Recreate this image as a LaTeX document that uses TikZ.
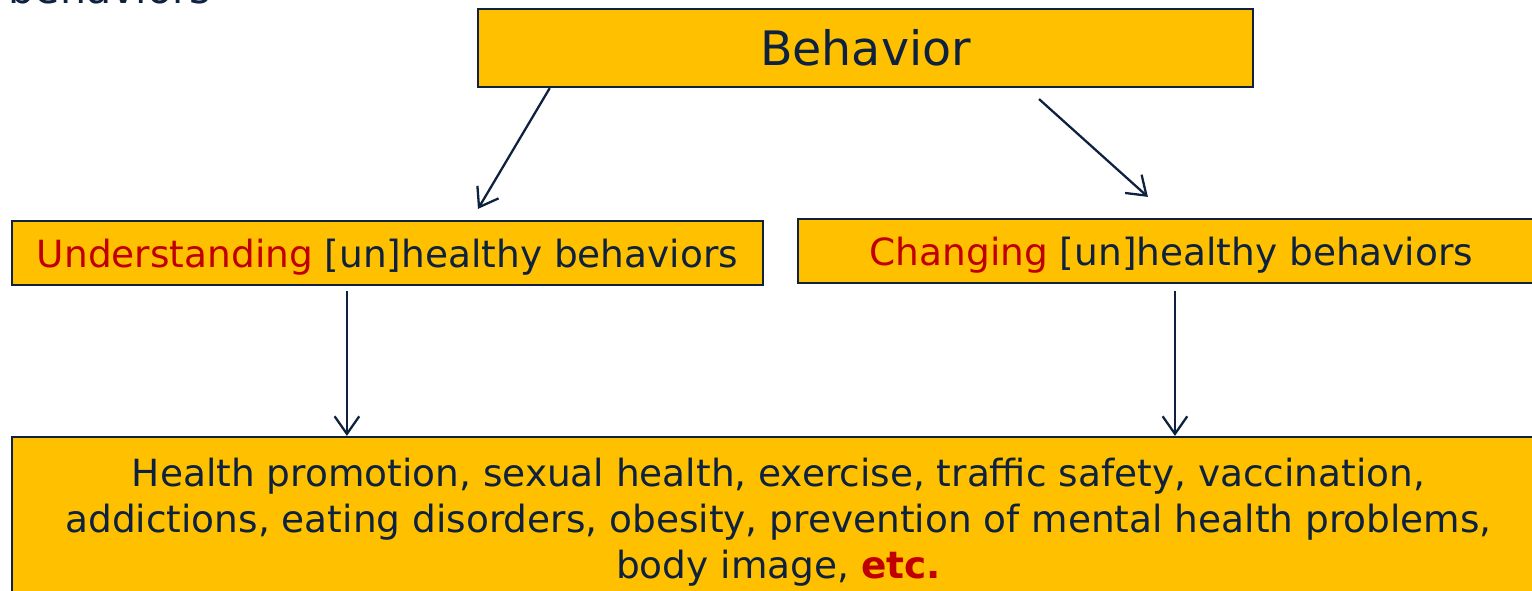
\documentclass[tikz,border=0pt]{standalone}
\usepackage{fontspec}
\setmainfont{DejaVu Sans}
\usetikzlibrary{arrows.meta}
\definecolor{navy}{HTML}{0E2240}
\definecolor{hred}{HTML}{C00000}
\definecolor{gold}{HTML}{FFC000}

\begin{document}
\begin{tikzpicture}[x=0.01cm,y=-0.01cm,
    box/.style={draw=navy,line width=0.6pt,fill=gold,text=navy,inner sep=0pt},
    mid/.style={box,minimum height=0.64cm,text height=9pt,text depth=1pt,font=\fontsize{10.65}{13}\selectfont},
    arr/.style={draw=navy,line width=0.65pt,-{Straight Barb[length=5pt,width=7pt]}}]
    \useasboundingbox (0,0) rectangle (1532,591);
    \clip (0,0) rectangle (1532,591);
    % title line, mostly off the top
    \node [anchor=base west,text=navy,font=\fontsize{11.7}{14}\selectfont,inner sep=0pt] (ttl) at (8,4) {behaviors};
    \node [box,minimum width=7.75cm,minimum height=0.78cm,font=\fontsize{13.5}{16}\selectfont] (beh) at (865.5,48) {Behavior};
    \node [mid,minimum width=7.51cm] (und) at (387.5,253)
        {\textcolor{hred}{Understanding} [un]healthy behaviors};
    \node [mid,minimum width=7.47cm] (chg) at (1171.5,251)
        {\textcolor{hred}{Changing} [un]healthy behaviors\hspace{0.1cm}};
    \node [box,minimum width=15.33cm,minimum height=1.70cm,align=center,font=\fontsize{10.65}{13.1}\selectfont] (bot) at (778.5,522)
        {Health promotion, sexual health, exercise, traffic safety, vaccination,\\
         addictions, eating disorders, obesity, prevention of mental health problems,\\
         body image, \textcolor{hred}{\bfseries etc.}};
    % arrows
    \draw [arr] ([xshift=0.73cm]beh.south west) -- ([xshift=4.67cm,yshift=0.11cm]und.north west);
    \draw [arr] ([xshift=5.62cm,yshift=-0.11cm]beh.south west) -- ([xshift=3.51cm,yshift=0.21cm]chg.north west);
    \draw [arr] ([xshift=3.36cm,yshift=-0.05cm]und.south west) coordinate (u) -- (u |- bot.north);
    \draw [arr] ([xshift=3.78cm,yshift=-0.07cm]chg.south west) coordinate (c) -- (c |- bot.north);
\end{tikzpicture}
\end{document}
